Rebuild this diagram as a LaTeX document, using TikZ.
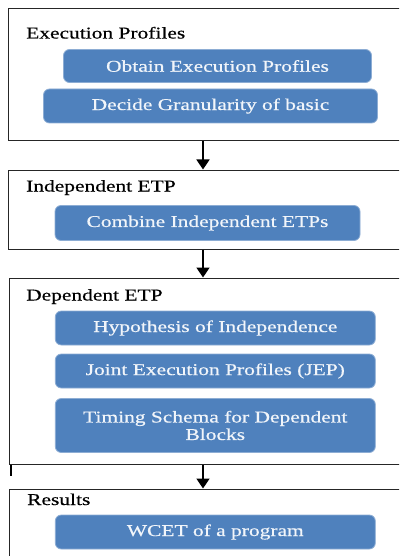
\documentclass[tikz,border=0pt]{standalone}
\usepackage{fontspec}
\setmainfont[FakeStretch=1.3,FakeBold=0.5]{Liberation Serif}
\usetikzlibrary{arrows.meta}

\definecolor{taskblue}{RGB}{79,129,189}

\begin{document}
\begin{tikzpicture}[x=1pt,y=-1pt]
   \tikzset{Stage/.style={draw=black!85,line width=1pt,minimum width=412pt}}
   \tikzset{Title/.style={anchor=base west,inner sep=0pt,font=\fontsize{16.5}{19}\selectfont}}
   \tikzset{Task/.style={draw=white!35!taskblue,fill=taskblue,line width=0.8pt,rounded corners=6pt,
      text=white!92!taskblue,align=center,inner sep=0pt,font=\fontsize{16.5}{17.5}\selectfont}}
   \tikzset{Flow/.style={line width=1.6pt,-{Triangle[width=13pt,length=10pt]}}}
   \useasboundingbox (0,0) rectangle (399,556);
   \clip (0,0) rectangle (399,556);
   % stages
   \node[Stage,minimum height=132pt] (exec) at (214,75) {};
   \node[Stage,minimum height=79pt] (indep) at (214,209.5) {};
   \node[Stage,minimum height=186pt] (dep) at (215,371) {};
   \node[Stage,minimum height=81pt] (res) at (215,529.5) {};
   \node[Title] (texec) at (26,38.5) {Execution Profiles};
   \node[Title] (tindep) at (26,191.5) {Independent ETP};
   \node[Title] (tdep) at (26,300.5) {Dependent ETP};
   \node[Title] (tres) at (27,505) {Results};
   % tasks
   \node[Task,minimum width=308pt,minimum height=33pt] (obtain) at (217.5,66) {Obtain Execution Profiles};
   \node[Task,minimum width=334pt,minimum height=34pt] (decide) at (210.5,106) {Decide Granularity of basic};
   \node[Task,minimum width=305pt,minimum height=35pt] (combine) at (207.5,223) {Combine Independent ETPs};
   \node[Task,minimum width=320pt,minimum height=34pt] (hypo) at (215.3,328) {Hypothesis of Independence};
   \node[Task,minimum width=320pt,minimum height=34pt] (jep) at (215.3,371) {Joint Execution Profiles (JEP)};
   \node[Task,minimum width=320pt,minimum height=54pt] (timing) at (215.3,425.5) {Timing Schema for Dependent\\Blocks};
   \node[Task,minimum width=320pt,minimum height=34pt] (wcet) at (215.3,532) {WCET of a program};
   % flow between stages
   \coordinate (axis) at (203,0);
   \draw[Flow] (exec.south -| axis) -- (indep.north -| axis);
   \draw[Flow] (indep.south -| axis) -- (dep.north -| axis);
   \draw[Flow] (dep.south -| axis) -- (res.north -| axis);
   \draw[line width=2.4pt] (11,465) -- (11,476);
\end{tikzpicture}
\end{document}
